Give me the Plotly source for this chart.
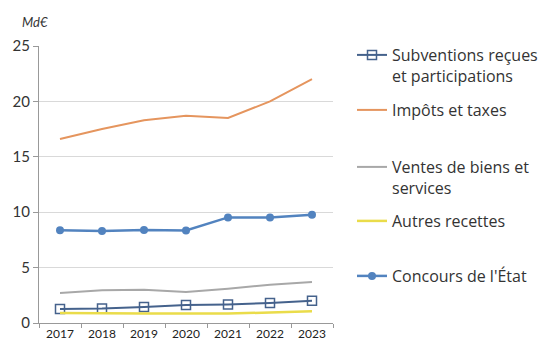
import plotly.graph_objects as go

years = ["2017", "2018", "2019", "2020", "2021", "2022", "2023"]
subventions = [1.26, 1.30, 1.44, 1.62, 1.68, 1.80, 2.00]
impots = [16.6, 17.5, 18.3, 18.7, 18.5, 20.0, 22.0]
ventes = [2.70, 2.95, 3.00, 2.80, 3.10, 3.45, 3.70]
autres = [0.90, 0.85, 0.85, 0.85, 0.85, 0.95, 1.05]
concours = [8.36, 8.30, 8.40, 8.35, 9.53, 9.53, 9.77]

names = ["Subventions reçues<br>et participations", "Impôts et taxes",
         "Ventes de biens et<br>services", "Autres recettes", "Concours de l'État"]

FONT = "Lato, Open Sans, sans-serif"
LEG_FONT = "Open Sans, Lato, sans-serif"

fig = go.Figure()
fig.add_trace(go.Scatter(x=years, y=subventions, name=names[0], mode="lines+markers",
                         line=dict(color="#45628C", width=2),
                         marker=dict(symbol="square-open", size=9, color="#45628C",
                                     line=dict(width=1.5)),
                         legend="legend"))
fig.add_trace(go.Scatter(x=years, y=impots, name=names[1], mode="lines",
                         line=dict(color="#E5955E", width=2), legend="legend2"))
fig.add_trace(go.Scatter(x=years, y=ventes, name=names[2], mode="lines",
                         line=dict(color="#A8A8A8", width=2), legend="legend3"))
fig.add_trace(go.Scatter(x=years, y=autres, name=names[3], mode="lines",
                         line=dict(color="#EADC4A", width=2.5), legend="legend4"))
fig.add_trace(go.Scatter(x=years, y=concours, name=names[4], mode="lines+markers",
                         line=dict(color="#5283BF", width=2.5),
                         marker=dict(symbol="circle", size=8, color="#5283BF"),
                         legend="legend5"))

# page is offset by the 8px default body margin: figure is 538x339 drawn at (8,8)
def px_to_paper_y(py):
    return (323 - py) / 277.0

def px_to_paper_x(px):
    return (px - 39) / 294.0

leg_common = dict(xref="paper", yref="paper", x=px_to_paper_x(352), xanchor="left",
                  yanchor="top", font=dict(family=LEG_FONT, size=16, color="#333333"),
                  bgcolor="rgba(0,0,0,0)", valign="top", itemwidth=30)
legend_tops = [38, 93, 150, 204, 259]
legends = {}
for i, top in enumerate(legend_tops):
    key = "legend" if i == 0 else f"legend{i+1}"
    legends[key] = dict(leg_common, y=px_to_paper_y(top))

fig.update_layout(
    width=538, height=339,
    margin=dict(l=31, r=213, t=38, b=24, autoexpand=False),
    paper_bgcolor="white", plot_bgcolor="white",
    showlegend=True,
    font=dict(family=FONT, color="#333333"),
    **legends,
)
fig.update_xaxes(type="category", range=[-0.5, 6.5], tickson="boundaries",
                 ticks="outside", ticklen=4, tickcolor="#999999",
                 showline=True, linecolor="#999999", linewidth=1, automargin=False,
                 showgrid=False, tickfont=dict(family=FONT, size=12, color="#222222"))
fig.update_yaxes(range=[0, 25], dtick=5, ticks="outside", ticklen=5, tickcolor="#999999",
                 showline=True, linecolor="#999999", linewidth=1, automargin=False,
                 showgrid=True, gridcolor="#D9D9D9", gridwidth=1, zeroline=False,
                 tickfont=dict(family=FONT, size=15, color="#333333"))
fig.add_annotation(text="<i>Md€</i>", xref="paper", yref="paper", x=px_to_paper_x(20),
                   y=px_to_paper_y(22), xanchor="left", yanchor="middle", showarrow=False,
                   font=dict(family=FONT, size=13, color="#333333"))

fig.write_html("out.html")
